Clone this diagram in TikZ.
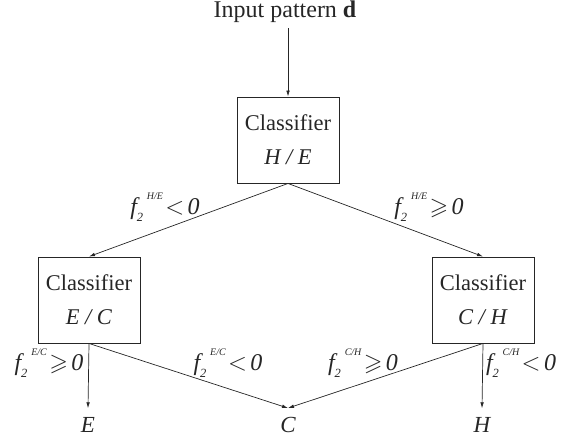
\documentclass[tikz,border=0pt]{standalone}
\usepackage{amssymb}
\usepackage{fontspec}
\setmainfont{Liberation Serif}
\usetikzlibrary{arrows.meta}
\newcommand{\flab}[2]{\textit{f}\kern-0.12em\rlap{\raisebox{-0.3em}{\fontsize{12.5}{13}\selectfont\itshape 2}}\kern0.42em\raisebox{0.62em}{\fontsize{10}{10}\selectfont\itshape #1}\kern0.1em#2\kern0.14em\textit{0}}
\begin{document}
\begin{tikzpicture}[x=1pt,y=-1pt,
  every node/.style={font=\fontsize{22.5}{26}\selectfont, text=black!85},
  cbox/.style={draw=black!85, line width=0.9pt, minimum width=102pt, minimum height=86pt, align=center, inner sep=0pt},
  res/.style={inner sep=0pt, font=\fontsize{23}{26}\selectfont\itshape},
  lab/.style={inner sep=0pt, font=\fontsize{24}{26}\selectfont},
  arr/.style={draw=black!85, line width=0.7pt, -{Latex[length=6pt,width=3.6pt]}}]
\useasboundingbox (0,0) rectangle (567,441);
\node[anchor=base, inner sep=0pt, font=\fontsize{24}{26}\selectfont] (in) at (285,17.3) {Input pattern \textbf{d}};
\node[cbox] (he) at (288,140) {Classifier\\[8pt]\textit{H / E}};
\node[cbox] (ec) at (89,300) {Classifier\\[8pt]\textit{E / C}};
\node[cbox] (ch) at (483,300) {Classifier\\[8pt]\textit{C / H}};
\node[res] (E) at (88,425) {E};
\node[res] (C) at (288,425) {C};
\node[res] (H) at (482,425) {H};
\draw[arr] ([xshift=3pt,yshift=-5.5pt]in.south) -- (he.north);
\draw[arr] (he.south) -- (ec.north);
\draw[arr] (he.south) -- (ch.north);
\draw[arr] (ec.south) -- ([yshift=9pt]E.north);
\draw[arr] (ec.south) -- ([yshift=9pt]C.north);
\draw[arr] (ch.south) -- ([yshift=9pt]C.north);
\draw[arr] (ch.south) -- ([yshift=9pt]H.north);
\node[lab] (l1) at (165,207) {\flab{H/E}{$<$}};
\node[lab] (l2) at (429,207) {\flab{H/E}{$\geqslant$}};
\node[lab] (l3) at (49,363) {\flab{E/C}{$\geqslant$}};
\node[lab] (l4) at (228,363) {\flab{E/C}{$<$}};
\node[lab] (l5) at (363,363) {\flab{C/H}{$\geqslant$}};
\node[lab] (l6) at (521,363) {\flab{C/H}{$<$}};
\end{tikzpicture}
\end{document}
